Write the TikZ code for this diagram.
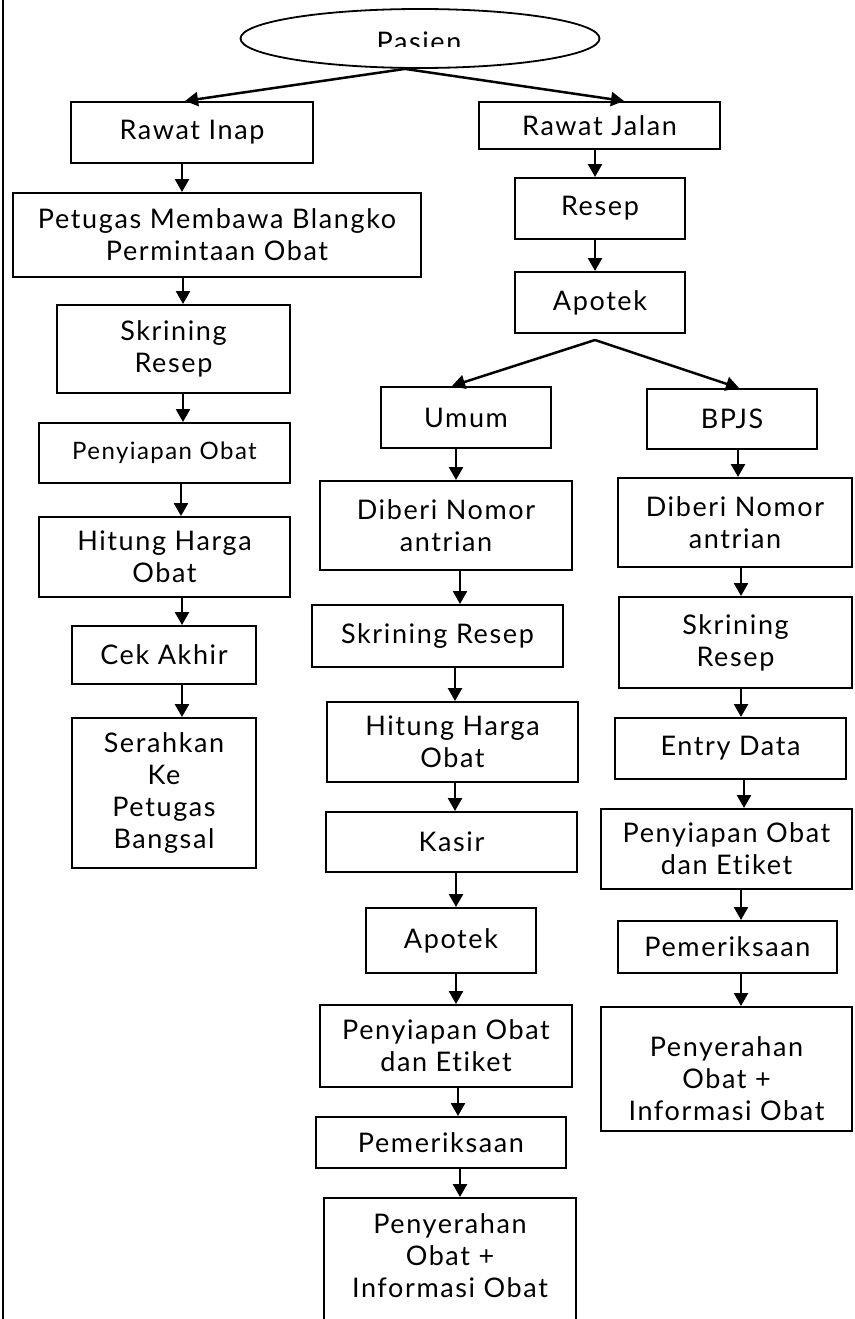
\documentclass[tikz,border=0pt]{standalone}
\usepackage{fontspec}
\setmainfont{Lato}[LetterSpace=6, Ligatures=NoCommon]
\usetikzlibrary{shapes.geometric,arrows.meta}
\tikzset{
  box/.style={draw, line width=2pt, inner sep=0pt, align=center, font=\fontsize{27}{32}\selectfont},
  txt/.style={inner sep=0pt, align=center, font=\fontsize{27}{32}\selectfont},
  arr/.style={line width=2.5pt, -{Triangle[width=14pt,length=13pt]}},
  diag/.style={line width=2.5pt, -{Triangle[width=14pt,length=13pt]}},
}
\begin{document}
\begin{tikzpicture}[x=1pt,y=-1pt]
\clip (0,0) rectangle (854,1319);
\fill[white] (0,0) rectangle (854,1319);
% left border line
\draw[line width=2pt] (3,0) -- (3,1319);

% top ellipse
\node[ellipse, draw, line width=1.8pt, minimum width=359pt, minimum height=59pt, inner sep=0pt] (pasien) at (420,38.5) {};
\begin{scope}
  \clip (230,0) rectangle (610,47);
  \node[txt, anchor=base] (pasientext) at (419,52) {Pasien};
\end{scope}

% left column (Rawat Inap)
\node[box, minimum width=242pt, minimum height=61pt] (rinap) at (192,132.5) {Rawat Inap};
\node[box, minimum width=408pt, minimum height=84pt] (petugas) at (217,235) {Petugas Membawa Blangko\\Permintaan Obat};
\node[box, minimum width=233pt, minimum height=88pt] (skrL) at (173.5,349) {Skrining\\Resep};
\node[box, minimum width=251pt, minimum height=60pt, font=\fontsize{24}{29}\selectfont] (penyL) at (164.5,453) {Penyiapan Obat};
\node[box, minimum width=251pt, minimum height=80pt] (hitungL) at (164.5,557) {Hitung Harga\\Obat};
\node[box, minimum width=184pt, minimum height=58pt] (cek) at (164,655) {Cek Akhir};
\node[box, minimum width=184pt, minimum height=150pt] (serah) at (164,793) {Serahkan\\Ke\\Petugas\\Bangsal};

% right trunk (Rawat Jalan)
\node[box, minimum width=241pt, minimum height=47pt] (rjalan) at (599.5,125.5) {Rawat Jalan};
\node[box, minimum width=170pt, minimum height=61pt] (resep) at (600,208.5) {Resep};
\node[box, minimum width=170pt, minimum height=61pt] (apotek) at (600,302.5) {Apotek};

% Umum column
\node[box, minimum width=170pt, minimum height=61pt] (umum) at (466,417.5) {Umum};
\node[box, minimum width=252pt, minimum height=89pt] (diberiU) at (446,525.5) {Diberi Nomor\\antrian};
\node[box, minimum width=251pt, minimum height=62pt] (skrU) at (437.5,636) {Skrining Resep};
\node[box, minimum width=251pt, minimum height=80pt] (hitungU) at (452.5,742) {Hitung Harga\\Obat};
\node[box, minimum width=251pt, minimum height=60pt] (kasir) at (451.5,842) {Kasir};
\node[box, minimum width=170pt, minimum height=65pt] (apotekU) at (451,940.5) {Apotek};
\node[box, minimum width=252pt, minimum height=82pt] (penyU) at (446,1046) {Penyiapan Obat\\dan Etiket};
\node[box, minimum width=250pt, minimum height=51pt] (pemU) at (441,1142.5) {Pemeriksaan};
\node[box, minimum width=252pt, minimum height=170pt, anchor=north] (penyerahU) at (450,1197) {};
\node[txt] (penyerahUtext) at (450,1256) {Penyerahan\\Obat +\\Informasi Obat};

% BPJS column
\node[box, minimum width=170pt, minimum height=60pt] (bpjs) at (732,419) {BPJS};
\node[box, minimum width=234pt, minimum height=89pt] (diberiB) at (735,522.5) {Diberi Nomor\\antrian};
\node[box, minimum width=233pt, minimum height=91pt] (skrB) at (735.5,642.5) {Skrining\\Resep};
\node[box, minimum width=231pt, minimum height=61pt] (entry) at (730.5,748.5) {Entry Data};
\node[box, minimum width=251pt, minimum height=80pt] (penyB) at (726.5,849) {Penyiapan Obat\\dan Etiket};
\node[box, minimum width=219pt, minimum height=52pt] (pemB) at (727.5,947) {Pemeriksaan};
\node[box, minimum width=251pt, minimum height=124pt] (penyerahB) at (726.5,1069) {};
\node[txt] (penyerahBtext) at (726.5,1079) {Penyerahan\\Obat +\\Informasi Obat};

% connectors from Pasien
\coordinate (top) at (pasien.south -| 405,0);
\draw[diag] (top) -- (rinap.north -| 185,0);
\draw[diag] (top) -- (rjalan.north -| 624,0);

% left column arrows
\draw[arr] (rinap.south -| 182,0) -- (petugas.north -| 182,0);
\draw[arr] (petugas.south -| 183,0) -- (skrL.north -| 183,0);
\draw[arr] (skrL.south -| 183,0) -- (penyL.north -| 183,0);
\draw[arr] (penyL.south -| 181,0) -- (hitungL.north -| 181,0);
\draw[arr] (hitungL.south -| 182,0) -- (cek.north -| 182,0);
\draw[arr] (cek.south -| 182,0) -- (serah.north -| 182,0);

% right trunk
\draw[arr] (rjalan.south -| 595,0) -- (resep.north -| 595,0);
\draw[arr] (resep.south -| 595,0) -- (apotek.north -| 595,0);
\coordinate (split) at ([yshift=-6pt]apotek.south -| 595,0);
\draw[diag] (split) -- (umum.north -| 452,0);
\draw[diag] (split) -- (bpjs.north -| 739,0);

% Umum arrows
\draw[arr] (umum.south -| 456,0) -- (diberiU.north -| 456,0);
\draw[arr] (diberiU.south -| 460,0) -- (skrU.north -| 460,0);
\draw[arr] (skrU.south -| 455,0) -- (hitungU.north -| 455,0);
\draw[arr] (hitungU.south -| 455,0) -- (kasir.north -| 455,0);
\draw[arr] (kasir.south -| 456,0) -- (apotekU.north -| 456,0);
\draw[arr] (apotekU.south -| 456,0) -- (penyU.north -| 456,0);
\draw[arr] (penyU.south -| 458,0) -- (pemU.north -| 458,0);
\draw[arr] (pemU.south -| 460,0) -- (penyerahU.north -| 460,0);

% BPJS arrows
\draw[arr] (bpjs.south -| 738,0) -- (diberiB.north -| 738,0);
\draw[arr] (diberiB.south -| 741,0) -- (skrB.north -| 741,0);
\draw[arr] (skrB.south -| 741,0) -- (entry.north -| 741,0);
\draw[arr] (entry.south -| 744,0) -- (penyB.north -| 744,0);
\draw[arr] (penyB.south -| 741,0) -- (pemB.north -| 741,0);
\draw[arr] (pemB.south -| 741,0) -- (penyerahB.north -| 741,0);
\end{tikzpicture}
\end{document}
